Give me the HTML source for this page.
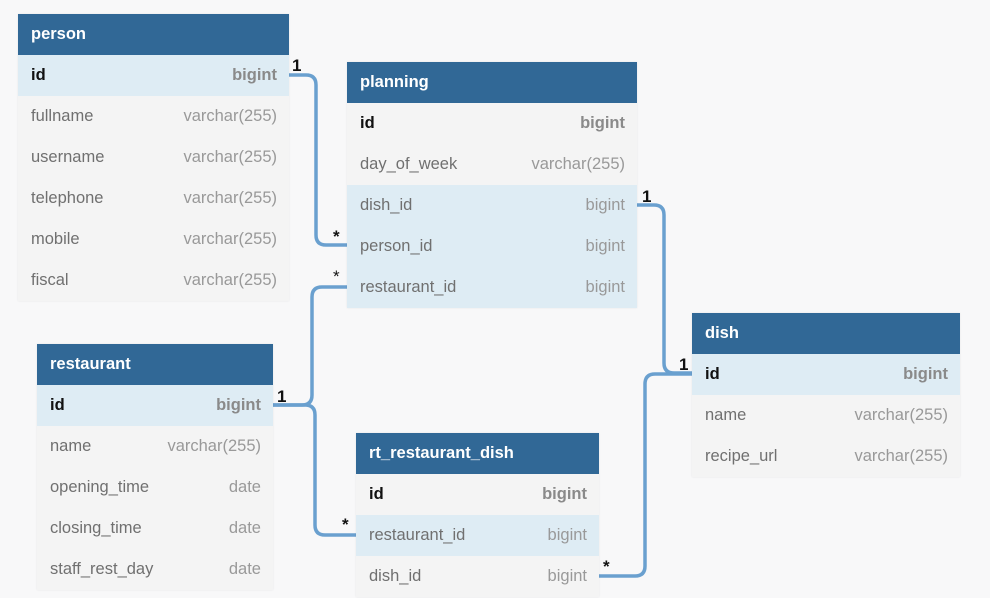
<!DOCTYPE html>
<html><head><meta charset="utf-8"><style>
body{margin:0;width:990px;height:598px;background:#f8f8f9;font-family:"Liberation Sans",sans-serif;position:relative;overflow:hidden}
.t{position:absolute;box-shadow:0 0 2px rgba(0,0,0,.08)}
.h{background:#316896;color:#fff;font-weight:bold;font-size:16.5px;height:41px;line-height:40px;padding-left:13px}
.r{height:41px;line-height:41px;background:#f4f4f4;color:#707070;font-size:16.5px;padding:0 12px 0 13px;display:flex;justify-content:space-between}
.r span:last-child{color:#999}
.r.hl{background:#deecf4}
.r.pk span:first-child{color:#111;font-weight:bold}
.r.pk span:last-child{font-weight:bold;color:#8a8a8a}
.l{position:absolute;font-size:17px;font-weight:bold;color:#111}
svg{position:absolute;left:0;top:0}
</style></head><body>
<svg width="990" height="598"><g fill="none" stroke="#6aa0cf" stroke-width="3.5">
<path d="M289 75 H306 Q316 75 316 85 V235 Q316 245 326 245 H347"/>
<path d="M273 405 H302 Q312 405 312 395 V297 Q312 287 322 287 H347"/>
<path d="M273 405 H305 Q315 405 315 415 V525 Q315 535 325 535 H356"/>
<path d="M637 205 H654 Q664 205 664 215 V363 Q664 373 674 373 H692"/>
<path d="M599 576 H635 Q645 576 645 566 V384 Q645 374 655 374 H692"/>
</g></svg>
<div class="t" style="left:18px;top:14px;width:271px">
<div class="h">person</div>
<div class="r hl pk"><span>id</span><span>bigint</span></div>
<div class="r"><span>fullname</span><span>varchar(255)</span></div>
<div class="r"><span>username</span><span>varchar(255)</span></div>
<div class="r"><span>telephone</span><span>varchar(255)</span></div>
<div class="r"><span>mobile</span><span>varchar(255)</span></div>
<div class="r"><span>fiscal</span><span>varchar(255)</span></div>
</div>
<div class="t" style="left:347px;top:62px;width:290px">
<div class="h">planning</div>
<div class="r pk"><span>id</span><span>bigint</span></div>
<div class="r"><span>day_of_week</span><span>varchar(255)</span></div>
<div class="r hl"><span>dish_id</span><span>bigint</span></div>
<div class="r hl"><span>person_id</span><span>bigint</span></div>
<div class="r hl"><span>restaurant_id</span><span>bigint</span></div>
</div>
<div class="t" style="left:692px;top:313px;width:268px">
<div class="h">dish</div>
<div class="r hl pk"><span>id</span><span>bigint</span></div>
<div class="r"><span>name</span><span>varchar(255)</span></div>
<div class="r"><span>recipe_url</span><span>varchar(255)</span></div>
</div>
<div class="t" style="left:37px;top:344px;width:236px">
<div class="h">restaurant</div>
<div class="r hl pk"><span>id</span><span>bigint</span></div>
<div class="r"><span>name</span><span>varchar(255)</span></div>
<div class="r"><span>opening_time</span><span>date</span></div>
<div class="r"><span>closing_time</span><span>date</span></div>
<div class="r"><span>staff_rest_day</span><span>date</span></div>
</div>
<div class="t" style="left:356px;top:433px;width:243px">
<div class="h">rt_restaurant_dish</div>
<div class="r pk"><span>id</span><span>bigint</span></div>
<div class="r hl"><span>restaurant_id</span><span>bigint</span></div>
<div class="r"><span>dish_id</span><span>bigint</span></div>
</div>
<div class="l" style="left:292px;top:56px">1</div>
<div class="l" style="left:333px;top:227px">*</div>
<div class="l" style="left:333px;top:267px;font-weight:normal">*</div>
<div class="l" style="left:277px;top:387px">1</div>
<div class="l" style="left:342px;top:515px">*</div>
<div class="l" style="left:642px;top:187px">1</div>
<div class="l" style="left:679px;top:355px">1</div>
<div class="l" style="left:603px;top:557px">*</div>
</body></html>
